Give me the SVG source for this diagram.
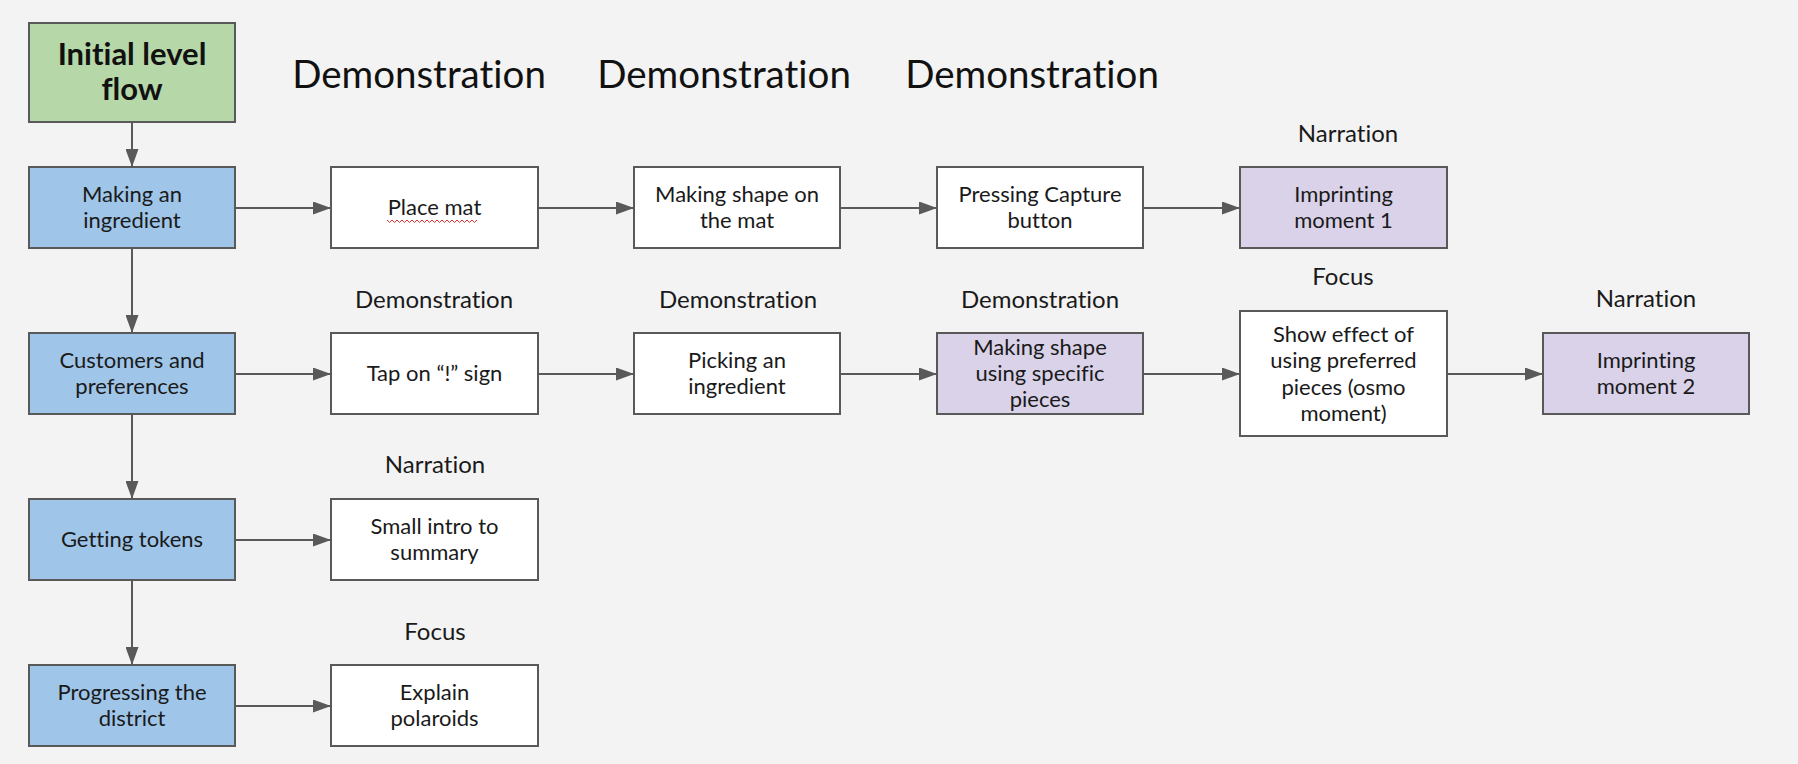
<svg xmlns="http://www.w3.org/2000/svg" width="1798" height="764" viewBox="0 0 1798 764">
<defs>
<marker id="ah" markerWidth="18" markerHeight="13" refX="18" refY="6.5" orient="auto" markerUnits="userSpaceOnUse" viewBox="0 0 18 13">
<path d="M0,0 L18,6.5 L0,13 Z" fill="#595959"/>
</marker>
<style>
text{font-variant-ligatures:none;font-feature-settings:"liga" 0}
.bx{stroke:#595959;stroke-width:2}
.w{fill:#ffffff}
.g{fill:#b6d7a8}
.b{fill:#9fc5e8}
.p{fill:#d9d2e9}
.t{font-family:Lato,"Open Sans",sans-serif;font-size:22px;fill:#1a1a1a;text-anchor:middle}
.lb{font-family:Lato,"Open Sans",sans-serif;font-size:24px;fill:#1a1a1a;text-anchor:middle}
.big{font-family:Lato,"Open Sans",sans-serif;font-size:38.5px;fill:#111;text-anchor:middle}
.ttl{font-family:Lato,"Open Sans",sans-serif;font-size:31px;font-weight:bold;fill:#111;text-anchor:middle}
.c{fill:none;stroke:#595959;stroke-width:2;marker-end:url(#ah)}
</style>
</defs>
<rect x="0" y="0" width="1798" height="764" fill="#f3f3f3"/>

<g id="labels">
<text class="big" x="419" y="88">Demonstration</text>
<text class="big" x="724" y="88">Demonstration</text>
<text class="big" x="1032" y="88">Demonstration</text>
<text class="lb" x="1348" y="142">Narration</text>
<text class="lb" x="434" y="308">Demonstration</text>
<text class="lb" x="738" y="308">Demonstration</text>
<text class="lb" x="1040" y="308">Demonstration</text>
<text class="lb" x="1343" y="285">Focus</text>
<text class="lb" x="1646" y="307">Narration</text>
<text class="lb" x="435" y="473">Narration</text>
<text class="lb" x="435" y="640">Focus</text>
</g>

<g id="connectors">
<line class="c" x1="132" y1="122" x2="132" y2="167"/>
<line class="c" x1="132" y1="248" x2="132" y2="333"/>
<line class="c" x1="132" y1="414" x2="132" y2="499"/>
<line class="c" x1="132" y1="580" x2="132" y2="665"/>
<line class="c" x1="235" y1="208" x2="331" y2="208"/>
<line class="c" x1="538" y1="208" x2="634" y2="208"/>
<line class="c" x1="840" y1="208" x2="937" y2="208"/>
<line class="c" x1="1143" y1="208" x2="1240" y2="208"/>
<line class="c" x1="235" y1="374" x2="331" y2="374"/>
<line class="c" x1="538" y1="374" x2="634" y2="374"/>
<line class="c" x1="840" y1="374" x2="937" y2="374"/>
<line class="c" x1="1143" y1="374" x2="1240" y2="374"/>
<line class="c" x1="1447" y1="374" x2="1543" y2="374"/>
<line class="c" x1="235" y1="540" x2="331" y2="540"/>
<line class="c" x1="235" y1="706" x2="331" y2="706"/>
</g>

<g id="n-initial">
<rect class="bx g" x="29" y="23" width="206" height="99"/>
<text class="ttl" x="132" y="65">Initial level</text>
<text class="ttl" x="132" y="100">flow</text>
</g>

<g id="n-making">
<rect class="bx b" x="29" y="167" width="206" height="81"/>
<text class="t" x="132" y="202">Making an</text>
<text class="t" x="132" y="228">ingredient</text>
</g>
<g id="n-customers">
<rect class="bx b" x="29" y="333" width="206" height="81"/>
<text class="t" x="132" y="368">Customers and</text>
<text class="t" x="132" y="394">preferences</text>
</g>
<g id="n-tokens">
<rect class="bx b" x="29" y="499" width="206" height="81"/>
<text class="t" x="132" y="547">Getting tokens</text>
</g>
<g id="n-progress">
<rect class="bx b" x="29" y="665" width="206" height="81"/>
<text class="t" x="132" y="700">Progressing the</text>
<text class="t" x="132" y="726">district</text>
</g>

<g id="n-placemat">
<rect class="bx w" x="331" y="167" width="207" height="81"/>
<text class="t" x="434.5" y="215">Place mat</text>
<path d="M387,220 l2.5,2.5 l2.5,-2.5 l2.5,2.5 l2.5,-2.5 l2.5,2.5 l2.5,-2.5 l2.5,2.5 l2.5,-2.5 l2.5,2.5 l2.5,-2.5 l2.5,2.5 l2.5,-2.5 l2.5,2.5 l2.5,-2.5 l2.5,2.5 l2.5,-2.5 l2.5,2.5 l2.5,-2.5 l2.5,2.5 l2.5,-2.5 l2.5,2.5 l2.5,-2.5 l2.5,2.5 l2.5,-2.5 l2.5,2.5 l2.5,-2.5 l2.5,2.5 l2.5,-2.5 l2.5,2.5 l2.5,-2.5 l2.5,2.5 l2.5,-2.5 l2.5,2.5 l2.5,-2.5 l2.5,2.5 l2.5,-2.5" fill="none" stroke="#e03030" stroke-width="1"/>
</g>
<g id="n-shapemat">
<rect class="bx w" x="634" y="167" width="206" height="81"/>
<text class="t" x="737" y="202">Making shape on</text>
<text class="t" x="737" y="228">the mat</text>
</g>
<g id="n-capture">
<rect class="bx w" x="937" y="167" width="206" height="81"/>
<text class="t" x="1040" y="202">Pressing Capture</text>
<text class="t" x="1040" y="228">button</text>
</g>
<g id="n-imprint1">
<rect class="bx p" x="1240" y="167" width="207" height="81"/>
<text class="t" x="1343.5" y="202">Imprinting</text>
<text class="t" x="1343.5" y="228">moment 1</text>
</g>

<g id="n-tap">
<rect class="bx w" x="331" y="333" width="207" height="81"/>
<text class="t" x="434.5" y="381">Tap on “!” sign</text>
</g>
<g id="n-picking">
<rect class="bx w" x="634" y="333" width="206" height="81"/>
<text class="t" x="737" y="368">Picking an</text>
<text class="t" x="737" y="394">ingredient</text>
</g>
<g id="n-specific">
<rect class="bx p" x="937" y="333" width="206" height="81"/>
<text class="t" x="1040" y="355">Making shape</text>
<text class="t" x="1040" y="381">using specific</text>
<text class="t" x="1040" y="407">pieces</text>
</g>
<g id="n-effect">
<rect class="bx w" x="1240" y="311" width="207" height="125"/>
<text class="t" x="1343.5" y="342">Show effect of</text>
<text class="t" x="1343.5" y="368">using preferred</text>
<text class="t" x="1343.5" y="395">pieces (osmo</text>
<text class="t" x="1343.5" y="421">moment)</text>
</g>
<g id="n-imprint2">
<rect class="bx p" x="1543" y="333" width="206" height="81"/>
<text class="t" x="1646" y="368">Imprinting</text>
<text class="t" x="1646" y="394">moment 2</text>
</g>

<g id="n-intro">
<rect class="bx w" x="331" y="499" width="207" height="81"/>
<text class="t" x="434.5" y="534">Small intro to</text>
<text class="t" x="434.5" y="560">summary</text>
</g>
<g id="n-polaroids">
<rect class="bx w" x="331" y="665" width="207" height="81"/>
<text class="t" x="434.5" y="700">Explain</text>
<text class="t" x="434.5" y="726">polaroids</text>
</g>
</svg>
